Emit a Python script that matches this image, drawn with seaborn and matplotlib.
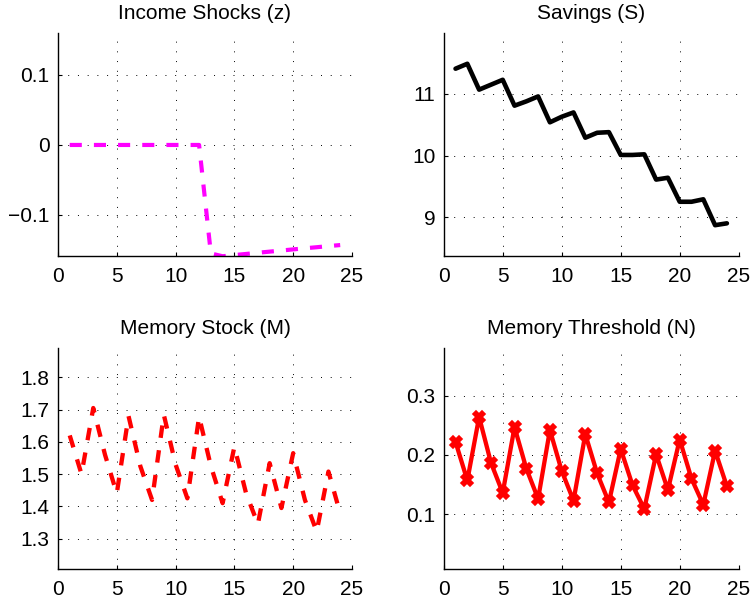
import numpy as np
import pandas as pd
import matplotlib
matplotlib.use("Agg")
import matplotlib.pyplot as plt
import seaborn as sns

# Simulated paths over 24 periods
periods = list(range(1, 25))

income_shocks = [0.0, 0.0, 0.0, 0.0, 0.0, 0.0, 0.0, 0.0, 0.0, 0.0, 0.0, 0.0,
                 -0.155, -0.159, -0.1573, -0.1557, -0.1540, -0.1524, -0.1508,
                 -0.1492, -0.1476, -0.1461, -0.1445, -0.1430]

savings = [11.41, 11.49, 11.07, 11.15, 11.23, 10.81, 10.88, 10.96, 10.54, 10.63,
           10.70, 10.29, 10.37, 10.38, 10.01, 10.01, 10.02, 9.61, 9.64, 9.25,
           9.25, 9.29, 8.87, 8.90]

memory_stock = [1.62, 1.50, 1.705, 1.56, 1.44, 1.68, 1.525, 1.42, 1.684, 1.53,
                1.425, 1.678, 1.525, 1.41, 1.585, 1.44, 1.345, 1.534, 1.395,
                1.565, 1.42, 1.322, 1.508, 1.378]

memory_threshold = [0.222, 0.157, 0.264, 0.187, 0.136, 0.247, 0.177, 0.126,
                    0.242, 0.173, 0.123, 0.235, 0.169, 0.120, 0.210, 0.149,
                    0.109, 0.201, 0.141, 0.226, 0.160, 0.116, 0.207, 0.147]

titles = ["Income Shocks (z)", "Savings (S)", "Memory Stock (M)", "Memory Threshold (N)"]
x_ticks = [0, 5, 10, 15, 20, 25]
z_ticks = [-0.1, 0, 0.1]
s_ticks = [9, 10, 11]
m_ticks = [1.3, 1.4, 1.5, 1.6, 1.7, 1.8]
n_ticks = [0.1, 0.2, 0.3]

sns.set_theme(style="white")
plt.rcParams["font.family"] = ["Liberation Sans", "DejaVu Sans"]
plt.rcParams["axes.unicode_minus"] = True

fig = plt.figure(figsize=(7.54, 6.05), dpi=100)
positions = [
    [0.0769, 0.5769, 0.3899, 0.3686],
    [0.5885, 0.5769, 0.3912, 0.3686],
    [0.0769, 0.0590, 0.3899, 0.3663],
    [0.5885, 0.0590, 0.3912, 0.3663],
]
axes = [fig.add_axes(p) for p in positions]

df = pd.DataFrame({
    "t": periods,
    "z": income_shocks,
    "S": savings,
    "M": memory_stock,
    "N": memory_threshold,
})

dash = (0, (2.9, 2.9))

sns.lineplot(data=df, x="t", y="z", ax=axes[0], color="#FF00FF", linewidth=3.0,
             linestyle=dash, dash_capstyle="butt")
sns.lineplot(data=df, x="t", y="S", ax=axes[1], color="black", linewidth=3.3)
sns.lineplot(data=df, x="t", y="M", ax=axes[2], color="#FF0000", linewidth=3.1,
             linestyle=dash, dash_capstyle="butt")
sns.lineplot(data=df, x="t", y="N", ax=axes[3], color="#FF0000", linewidth=3.1,
             marker="X", markersize=8, markeredgewidth=1.2, markeredgecolor="#FF0000",
             markerfacecolor="#FF0000")

ylims = [(-0.1586, 0.16), (8.37, 11.99), (1.205, 1.892), (0.007, 0.381)]
yticks = [z_ticks, s_ticks, m_ticks, n_ticks]

for ax, title, yl, yt in zip(axes, titles, ylims, yticks):
    ax.set_xlim(0, 25)
    ax.set_ylim(*yl)
    ax.set_xticks(x_ticks)
    ax.set_yticks(yt)
    ax.set_xlabel("")
    ax.set_ylabel("")
    ax.set_title(title, fontsize=15, pad=10, color="black")
    ax.grid(True, color="black", linestyle=(0, (1, 9)), linewidth=0.7)
    ax.set_axisbelow(True)
    for side in ("top", "right"):
        ax.spines[side].set_visible(False)
    for side in ("left", "bottom"):
        ax.spines[side].set_visible(True)
        ax.spines[side].set_color("black")
        ax.spines[side].set_linewidth(1.0)
    ax.tick_params(axis="both", which="major", direction="in", length=3, width=0.8,
                   labelsize=15, colors="black", left=True, bottom=True)
    ax.tick_params(axis="y", pad=6)
    ax.tick_params(axis="x", pad=8)
    ax.set_facecolor("white")

axes[0].set_yticklabels(["\u22120.1", "0", "0.1"])

fig.savefig("out.png", dpi=100, facecolor="white")
